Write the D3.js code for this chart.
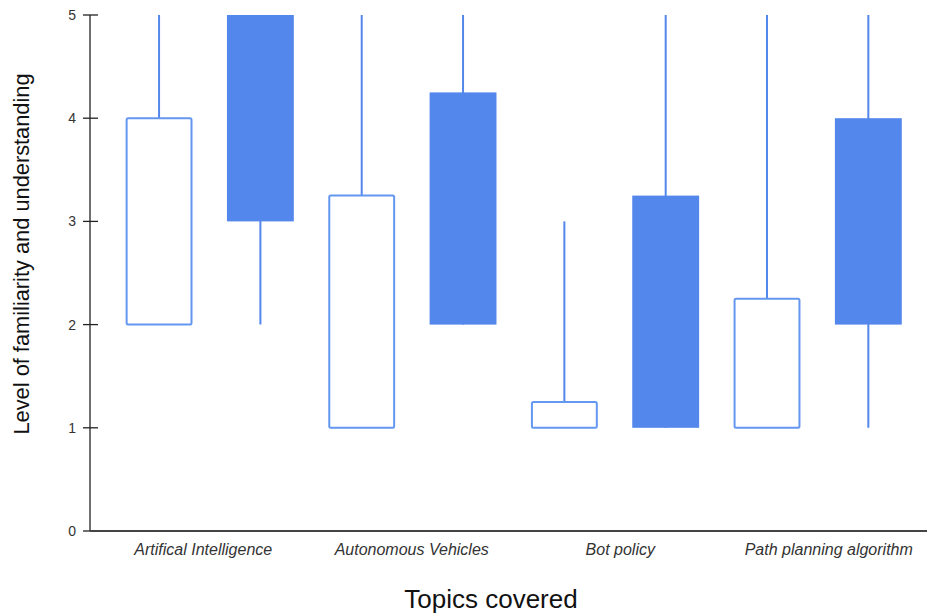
<!DOCTYPE html>
<html>
<head>
<meta charset="utf-8">
<script src="https://cdn.jsdelivr.net/npm/d3@7"></script>
<style>
  html, body { margin: 0; padding: 0; background: #fff; }
  svg { display: block; font-family: "Liberation Sans", Arial, sans-serif; }
</style>
</head>
<body>
<svg id="chart" width="927" height="616"></svg>
<script>
// ---- data ----
const categories = ["Artifical Intelligence", "Autonomous Vehicles", "Bot policy", "Path planning algorithm"];
const seriesNames = ["hollow", "filled"];
// hollow candles: low, open, close, high
const hollowLow   = [2, 1, 1, 1];
const hollowOpen  = [2, 1, 1, 1];
const hollowClose = [4, 3.25, 1.25, 2.25];
const hollowHigh  = [5, 5, 3, 5];
// filled candles
const filledLow   = [2, 2, 1, 1];
const filledOpen  = [5, 4.25, 3.25, 4];
const filledClose = [3, 2, 1, 2];
const filledHigh  = [5, 5, 5, 5];
const yTicks = [0, 1, 2, 3, 4, 5];
const yTitle = "Level of familiarity and understanding";
const xTitle = "Topics covered";

const blue = "#5387EB";

const svg = d3.select("#chart");

const y = d3.scaleLinear().domain([0, 5]).range([531, 15]);
const xCat = d3.scaleBand().domain(categories).range([108.4, 919]);
const xSer = d3.scaleBand().domain(seriesNames).range([0, xCat.bandwidth()])
  .paddingInner(0.34).paddingOuter(0.17);
const xLabel = d3.scaleBand().domain(categories).range([99, 933]);

const rows = [];
categories.forEach((c, i) => {
  rows.push({cat: c, ser: "hollow", low: hollowLow[i], open: hollowOpen[i], close: hollowClose[i], high: hollowHigh[i]});
  rows.push({cat: c, ser: "filled", low: filledLow[i], open: filledOpen[i], close: filledClose[i], high: filledHigh[i]});
});

const cx = d => xCat(d.cat) + xSer(d.ser) + xSer.bandwidth() / 2;

// whiskers
svg.append("g").selectAll("line").data(rows).join("line")
  .attr("x1", cx).attr("x2", cx)
  .attr("y1", d => y(d.high)).attr("y2", d => y(d.low))
  .attr("stroke", blue).attr("stroke-width", 2);

// boxes
const bw = xSer.bandwidth();
svg.append("g").selectAll("rect").data(rows.filter(d => d.ser === "filled")).join("rect")
  .attr("x", d => xCat(d.cat) + xSer(d.ser))
  .attr("width", bw)
  .attr("y", d => y(Math.max(d.open, d.close)))
  .attr("height", d => Math.abs(y(d.open) - y(d.close)))
  .attr("fill", blue);

svg.append("g").selectAll("rect").data(rows.filter(d => d.ser === "hollow")).join("rect")
  .attr("x", d => xCat(d.cat) + xSer(d.ser) + 1)
  .attr("width", bw - 2)
  .attr("y", d => y(Math.max(d.open, d.close)))
  .attr("height", d => Math.abs(y(d.open) - y(d.close)))
  .attr("rx", 1.5)
  .attr("fill", "#fff").attr("stroke", "#6397F0").attr("stroke-width", 2);

// y axis
const axisX = 90;
svg.append("line").attr("x1", axisX).attr("x2", axisX).attr("y1", y(5)).attr("y2", y(0))
  .attr("stroke", "#222").attr("stroke-width", 1.3);
const yt = svg.append("g").selectAll("g").data(yTicks).join("g");
yt.append("line").attr("x1", 83).attr("x2", d => d === 0 ? axisX : 98)
  .attr("y1", d => y(d)).attr("y2", d => y(d))
  .attr("stroke", "#222").attr("stroke-width", 1.3);
yt.append("text").attr("x", 76).attr("y", d => y(d) + 5)
  .attr("text-anchor", "end").attr("font-size", 14).attr("fill", "#333")
  .text(d => d);

// x axis line
svg.append("line").attr("x1", axisX).attr("x2", 927).attr("y1", y(0)).attr("y2", y(0))
  .attr("stroke", "#444").attr("stroke-width", 2);

// category labels
svg.append("g").selectAll("text").data(categories).join("text")
  .attr("x", d => xLabel(d) + xLabel.bandwidth() / 2)
  .attr("y", 555)
  .attr("text-anchor", "middle").attr("font-size", 16).attr("font-style", "italic")
  .attr("fill", "#333")
  .text(d => d);

// titles
svg.append("text").attr("x", 491).attr("y", 608).attr("text-anchor", "middle")
  .attr("font-size", 26).attr("fill", "#111").text(xTitle);
svg.append("text").attr("transform", "translate(29,254) rotate(-90)")
  .attr("text-anchor", "middle").attr("font-size", 21.8).attr("fill", "#111").text(yTitle);
</script>
</body>
</html>
